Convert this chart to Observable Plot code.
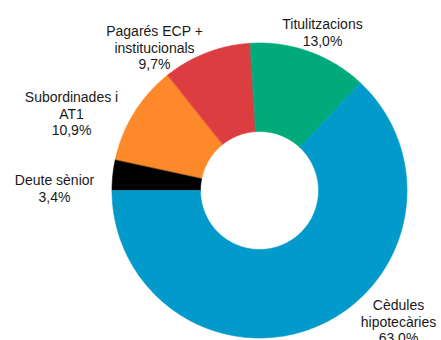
<!DOCTYPE html>
<html>
<head>
<meta charset="utf-8">
<script src="https://cdn.jsdelivr.net/npm/d3@7"></script>
<script src="https://cdn.jsdelivr.net/npm/@observablehq/plot@0.6"></script>
<style>
  html, body { margin: 0; padding: 0; background: #fff; }
  #chart svg { display: block; }
</style>
</head>
<body>
<div id="chart"></div>
<script>
// Funding structure (% of total), clockwise from 9 o'clock
const categories = ["Deute sènior", "Subordinades i\nAT1", "Pagarés ECP +\ninstitucionals", "Titulitzacions", "Cèdules\nhipotecàries"];
const values = [3.4, 10.9, 9.7, 13.0, 63.0];
const colors = ["#000000", "#fd892b", "#dc3d40", "#00aa7b", "#0299cb"];

// Label anchors (top-centre of each text block), relative to the ring centre
const labelOffsets = [[-205, -17], [-188, -100], [-105, -166], [63, -173], [139, 108]];

const W = 441, H = 340;
const cx = 259, cy = 190;          // ring centre in the SVG
const rOuter = 147.5, rInner = 59;

const rows = categories.map((name, i) => ({name, value: values[i], color: colors[i], i}));

const arcs = d3.pie().value(d => d.value).sort(null)
  .startAngle(-Math.PI / 2).endAngle(1.5 * Math.PI)(rows);

// Each slice becomes a closed ring-sector outline (outer arc, then inner arc back)
const pt = (r, a) => ({px: r * Math.sin(a), py: -r * Math.cos(a)});
const outline = arcs.flatMap(a => {
  const n = Math.max(8, Math.ceil((a.endAngle - a.startAngle) * 60));
  const ring = [];
  for (let k = 0; k <= n; k++) ring.push(pt(rOuter, a.startAngle + (a.endAngle - a.startAngle) * k / n));
  for (let k = n; k >= 0; k--) ring.push(pt(rInner, a.startAngle + (a.endAngle - a.startAngle) * k / n));
  return ring.map(p => ({...p, name: a.data.name, color: a.data.color}));
});

const fmt = v => v.toFixed(1).replace(".", ",") + "%";
const labels = rows.map((d, i) => ({
  text: d.name + "\n" + fmt(d.value),
  px: labelOffsets[i][0],
  py: labelOffsets[i][1]
}));

const plot = Plot.plot({
  width: W,
  height: H,
  margin: 0,
  x: {domain: [-cx, W - cx], range: [0, W], axis: null},
  y: {domain: [-cy, H - cy], range: [0, H], axis: null},
  style: {fontFamily: "Arial, 'Liberation Sans', sans-serif", background: "#fff", overflow: "visible"},
  marks: [
    Plot.line(outline, {
      x: "px", y: "py", z: "name",
      fill: d => d.color, stroke: d => d.color, strokeWidth: 0.6,
      curve: "linear-closed"
    }),
    Plot.text(labels, {
      x: "px", y: "py", text: "text",
      fontSize: 14, lineHeight: 1.17, lineAnchor: "top",
      fill: "#1a1a1a", textAnchor: "middle"
    })
  ]
});

document.getElementById("chart").appendChild(plot);
</script>
</body>
</html>
